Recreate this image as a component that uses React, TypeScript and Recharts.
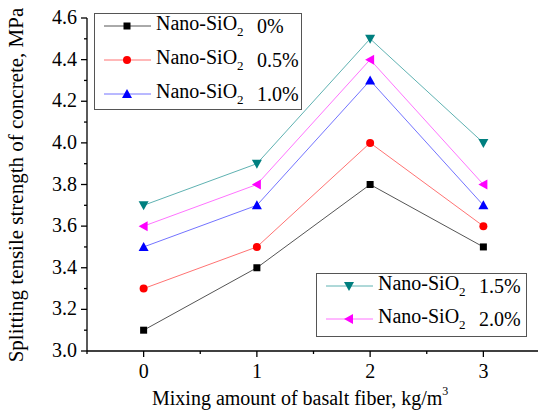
import React from "react";
import { LineChart, Line, XAxis, YAxis } from "recharts";

const fiber = [0, 1, 2, 3];
const sio2_0 = [3.1, 3.4, 3.8, 3.5];
const sio2_05 = [3.3, 3.5, 4.0, 3.6];
const sio2_10 = [3.5, 3.7, 4.3, 3.7];
const sio2_15 = [3.7, 3.9, 4.5, 4.0];
const sio2_20 = [3.6, 3.8, 4.4, 3.8];
const xTicks = [-0.5, 0, 0.5, 1, 1.5, 2, 2.5, 3, 3.5];
const yTicks = [3.0, 3.1, 3.2, 3.3, 3.4, 3.5, 3.6, 3.7, 3.8, 3.9, 4.0, 4.1, 4.2, 4.3, 4.4, 4.5, 4.6];

const series = [
  { key: "s0", label: "0%", values: sio2_0, line: "#555555", mark: "#000000", shape: "square" },
  { key: "s05", label: "0.5%", values: sio2_05, line: "#ff7373", mark: "#ff0000", shape: "circle" },
  { key: "s10", label: "1.0%", values: sio2_10, line: "#7373ff", mark: "#0000ff", shape: "up" },
  { key: "s15", label: "1.5%", values: sio2_15, line: "#5fb2b2", mark: "#007f7f", shape: "down" },
  { key: "s20", label: "2.0%", values: sio2_20, line: "#ff73ff", mark: "#ff00ff", shape: "left" },
];

const data = fiber.map((x, i) => {
  const row: any = { x };
  series.forEach((s) => (row[s.key] = s.values[i]));
  return row;
});

const font = "'Liberation Serif', 'Times New Roman', serif";

function Marker({ cx, cy, shape, color }: any) {
  if (shape === "square") return <rect x={cx - 3.5} y={cy - 3.5} width={7} height={7} fill={color} />;
  if (shape === "circle") return <circle cx={cx} cy={cy} r={4} fill={color} />;
  if (shape === "up") return <polygon points={`${cx},${cy - 5} ${cx - 5},${cy + 4} ${cx + 5},${cy + 4}`} fill={color} />;
  if (shape === "down") return <polygon points={`${cx},${cy + 5} ${cx - 5},${cy - 4} ${cx + 5},${cy - 4}`} fill={color} />;
  return <polygon points={`${cx - 5},${cy} ${cx + 4},${cy - 5} ${cx + 4},${cy + 5}`} fill={color} />;
}

const XTick = ({ x, y, payload }: any) => {
  const major = Number.isInteger(payload.value);
  return (
    <g>
      <line x1={x} x2={x} y1={y} y2={y + (major ? 6 : 3)} stroke="#000" strokeWidth={1.3} />
      {major && (
        <text x={x} y={y + 27} textAnchor="middle" fontSize={20} fontFamily={font} fill="#000">
          {payload.value}
        </text>
      )}
    </g>
  );
};

const YTick = ({ x, y, payload }: any) => {
  const v = Math.round(payload.value * 10);
  const major = v % 2 === 0;
  return (
    <g>
      <line x1={x - (major ? 6 : 3)} x2={x} y1={y} y2={y} stroke="#000" strokeWidth={1.3} />
      {major && (
        <text x={x - 10} y={y + 6} textAnchor="end" fontSize={20} fontFamily={font} fill="#000">
          {(v / 10).toFixed(1)}
        </text>
      )}
    </g>
  );
};

function LegendBox({ items, rows, style }: any) {
  return (
    <div
      style={{
        position: "absolute",
        border: "1px solid #555",
        background: "#fff",
        boxSizing: "border-box",
        fontFamily: font,
        fontSize: 20,
        ...style,
      }}
    >
      {items.map((s: any, i: number) => (
        <div
          key={s.key}
          style={{
            position: "absolute",
            left: 0,
            top: rows[i] - 16,
            display: "flex",
            alignItems: "center",
            height: 32,
            whiteSpace: "nowrap",
          }}
        >
          <svg width={50} height={14} style={{ marginLeft: 8, marginRight: 3 }}>
            <line x1={1} x2={48} y1={7} y2={7} stroke={s.line} strokeWidth={1} />
            <Marker cx={24} cy={7} shape={s.shape} color={s.mark} />
          </svg>
          <span style={{ display: "inline-block", width: 101 }}>
            Nano-SiO<sub style={{ fontSize: 13, verticalAlign: -6 }}>2</sub>
          </span>
          <span>{s.label}</span>
        </div>
      ))}
    </div>
  );
}

export default function App() {
  return (
    <div style={{ position: "absolute", left: 0, top: 0, width: 538, height: 411, overflow: "hidden", background: "#fff" }}>
      <LineChart width={545} height={411} data={data} margin={{ top: 18, right: 5, bottom: 0, left: 0 }}>
        <XAxis
          dataKey="x"
          type="number"
          domain={[-0.5, 3.5]}
          ticks={xTicks}
          interval={0}
          tick={<XTick />}
          tickLine={false}
          tickSize={0}
          tickMargin={0}
          height={60}
          axisLine={{ stroke: "#000", strokeWidth: 1.3 }}
        />
        <YAxis
          type="number"
          domain={[3.0, 4.6]}
          ticks={yTicks}
          interval={0}
          tick={<YTick />}
          tickLine={false}
          tickSize={0}
          tickMargin={0}
          width={87}
          axisLine={{ stroke: "#000", strokeWidth: 1.3 }}
        />
        {series.map((s) => (
          <Line
            key={s.key}
            dataKey={s.key}
            type="linear"
            stroke={s.line}
            strokeWidth={1}
            isAnimationActive={false}
            dot={(p: any) => <Marker key={`${s.key}-${p.index}`} cx={p.cx} cy={p.cy} shape={s.shape} color={s.mark} />}
            activeDot={false}
          />
        ))}
      </LineChart>
      <div
        style={{
          position: "absolute",
          left: 152,
          top: 384,
          fontFamily: font,
          fontSize: 20,
          whiteSpace: "nowrap",
        }}
      >
        Mixing amount of basalt fiber, kg/m<sup style={{ fontSize: 12, verticalAlign: 10 }}>3</sup>
      </div>
      <div
        style={{
          position: "absolute",
          left: 16,
          top: 185,
          fontFamily: font,
          fontSize: 21,
          whiteSpace: "nowrap",
          transform: "translate(-50%, -50%) rotate(-90deg)",
        }}
      >
        Splitting tensile strength of concrete, MPa
      </div>
      <LegendBox items={series.slice(0, 3)} rows={[12, 46, 80]} style={{ left: 94, top: 13, width: 208, height: 97 }} />
      <LegendBox items={series.slice(3)} rows={[12, 45]} style={{ left: 316, top: 273, width: 211, height: 64 }} />
    </div>
  );
}
